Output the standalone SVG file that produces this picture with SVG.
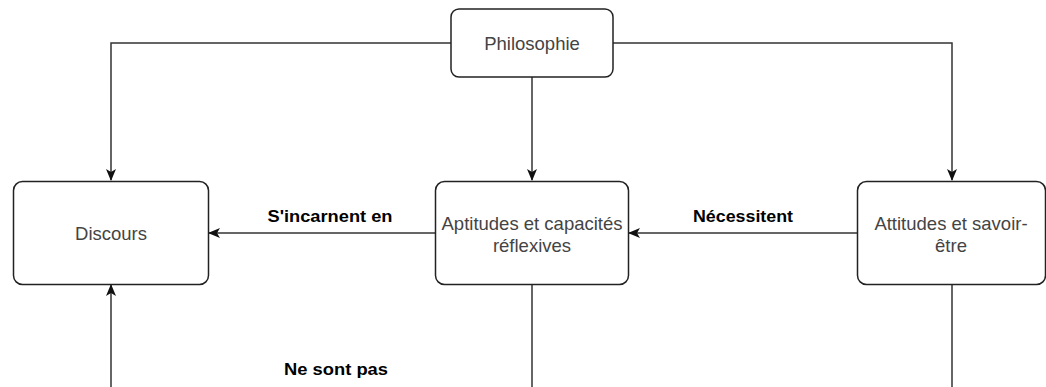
<svg xmlns="http://www.w3.org/2000/svg" width="1046" height="387" viewBox="0 0 1046 387">
<style>
.box{fill:#fff;stroke:#222;stroke-width:1.5}
.t{font-family:"Liberation Sans",Arial,sans-serif;font-size:18.5px;fill:#444;text-anchor:middle}
.lbl{font-family:"Liberation Sans",Arial,sans-serif;font-size:17px;font-weight:bold;fill:#000;text-anchor:middle}
.e{fill:none;stroke:#333;stroke-width:1.5}
</style>
<defs>
<marker id="ah" viewBox="0 0 12 10" refX="11" refY="5" markerWidth="12" markerHeight="10" markerUnits="userSpaceOnUse" orient="auto">
<path d="M0,0 L12,5 L0,10 L3,5 Z" fill="#111"/>
</marker>
</defs>
<rect width="1046" height="387" fill="#fff"/>
<g id="connectors">
<path class="e" d="M451,43 H111 V180" marker-end="url(#ah)"/>
<path class="e" d="M613,43 H952 V180" marker-end="url(#ah)"/>
<path class="e" d="M532,77 V180" marker-end="url(#ah)"/>
<path class="e" d="M435,233 H209" marker-end="url(#ah)"/>
<path class="e" d="M857,233 H629" marker-end="url(#ah)"/>
<path class="e" d="M111,387 V285" marker-end="url(#ah)"/>
<path class="e" d="M532,284 V387"/>
<path class="e" d="M952,284 V387"/>
<text class="lbl" x="330" y="222" textLength="125" lengthAdjust="spacingAndGlyphs">S'incarnent en</text>
<text class="lbl" x="743" y="222" textLength="100" lengthAdjust="spacingAndGlyphs">Nécessitent</text>
<text class="lbl" x="336" y="375" textLength="104" lengthAdjust="spacingAndGlyphs">Ne sont pas</text>
</g>
<g id="philosophie">
<rect class="box" x="451" y="9" width="162" height="68" rx="8"/>
<text class="t" x="532" y="50">Philosophie</text>
</g>
<g id="discours">
<rect class="box" x="13.5" y="181.5" width="195" height="103" rx="9"/>
<text class="t" x="111" y="240">Discours</text>
</g>
<g id="aptitudes">
<rect class="box" x="435.5" y="181.5" width="193" height="103" rx="9"/>
<text class="t" x="532" y="230">Aptitudes et capacités</text>
<text class="t" x="532" y="252">réflexives</text>
</g>
<g id="attitudes">
<rect class="box" x="857.5" y="181.5" width="188" height="103" rx="9"/>
<text class="t" x="951" y="230">Attitudes et savoir-</text>
<text class="t" x="951" y="252">être</text>
</g>
</svg>
